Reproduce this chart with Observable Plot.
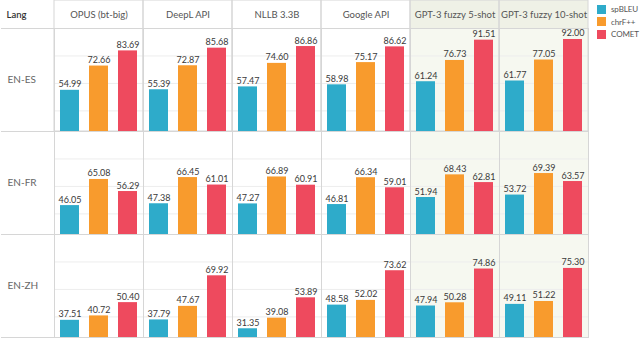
<!DOCTYPE html>
<html>
<head>
<meta charset="utf-8">
<script src="https://cdn.jsdelivr.net/npm/d3@7"></script>
<script src="https://cdn.jsdelivr.net/npm/@observablehq/plot@0.6"></script>
<style>
  body { margin: 0; background: #fff; font-family: Lato, "Open Sans", sans-serif; }
  #wrap { position: relative; width: 640px; height: 354px; }
  #legend { position: absolute; left: 597px; top: 3px; font-size: 8px; color: #555; white-space: nowrap; letter-spacing: -0.1px; }
  #legend .row { display: flex; align-items: center; height: 12.5px; }
  #legend .sw { width: 9px; height: 9px; margin-right: 5px; flex: none; }
</style>
</head>
<body>
<div id="wrap"><div id="legend"></div></div>
<script>
const models = ["OPUS (bt-big)", "DeepL API", "NLLB 3.3B", "Google API", "GPT-3 fuzzy 5-shot", "GPT-3 fuzzy 10-shot"];
const langs = ["EN-ES", "EN-FR", "EN-ZH"];
const metrics = ["spBLEU", "chrF++", "COMET"];
const colors = ["#2eabca", "#f89b2d", "#ee4a5e"];
const gptModels = ["GPT-3 fuzzy 5-shot", "GPT-3 fuzzy 10-shot"];

// values per language & metric, in model order
const esSpBLEU = [54.99, 55.39, 57.47, 58.98, 61.24, 61.77];
const esChrF   = [72.66, 72.87, 74.60, 75.17, 76.73, 77.05];
const esComet  = [83.69, 85.68, 86.86, 86.62, 91.51, 92.00];
const frSpBLEU = [46.05, 47.38, 47.27, 46.81, 51.94, 53.72];
const frChrF   = [65.08, 66.45, 66.89, 66.34, 68.43, 69.39];
const frComet  = [56.29, 61.01, 60.91, 59.01, 62.81, 63.57];
const zhSpBLEU = [37.51, 37.79, 31.35, 48.58, 47.94, 49.11];
const zhChrF   = [40.72, 47.67, 39.08, 52.02, 50.28, 51.22];
const zhComet  = [50.40, 69.92, 53.89, 73.62, 74.86, 75.30];

const yMin = 25, yMax = 100;

const byLang = {
  "EN-ES": [esSpBLEU, esChrF, esComet],
  "EN-FR": [frSpBLEU, frChrF, frComet],
  "EN-ZH": [zhSpBLEU, zhChrF, zhComet]
};
const rows = [];
for (const lang of langs) {
  metrics.forEach((metric, k) => {
    models.forEach((model, i) => rows.push({lang, model, metric, value: byLang[lang][k][i]}));
  });
}
const cells = langs.flatMap(lang => models.map(model => ({lang, model})));
const gptCells = cells.filter(d => gptModels.includes(d.model));
const topCells = cells.filter(d => d.lang === langs[0]);
const gptTop = gptCells.filter(d => d.lang === langs[0]);
const firstCol = cells.filter(d => d.model === models[0]);
const firstColEdges = firstCol.flatMap(d => [{...d, y: yMin}, {...d, y: yMax}]);

const border = "#d6d6d6";
const fxy = {fx: "model", fy: "lang"};

const chart = Plot.plot({
  width: 640,
  height: 354,
  marginLeft: 52,
  marginRight: 50,
  marginTop: 27,
  marginBottom: 16,
  style: {fontFamily: "Lato, 'Open Sans', sans-serif", background: "transparent"},
  fx: {domain: models, padding: 0, axis: null},
  fy: {domain: langs, padding: 0, axis: null},
  x: {domain: metrics, paddingInner: 1/3, paddingOuter: 1/6, axis: null},
  y: {domain: [yMin, yMax], axis: null},
  color: {domain: metrics, range: colors},
  marks: [
    Plot.barY(gptTop, {...fxy, y1: () => yMin, y2: () => yMax, fill: "#eff1e6", insetTop: -28}),
    Plot.barY(gptCells, {...fxy, y1: () => yMin, y2: () => yMax, fill: "#f6f8f0"}),
    Plot.gridY([40, 60, 80], {stroke: "#ededed", strokeOpacity: 1}),
    Plot.frame({stroke: border}),
    Plot.barY(topCells, {...fxy, y1: () => yMin, y2: () => yMax, fill: "none", stroke: border, insetTop: -28}),
    Plot.ruleY(firstColEdges, {...fxy, y: "y", stroke: border, insetLeft: -53}),
    Plot.barY(rows, {...fxy, x: "metric", y1: () => yMin, y2: "value", fill: "metric"}),
    Plot.text(rows, {...fxy, x: "metric", y: "value", text: d => d.value.toFixed(2), dy: -3, lineAnchor: "bottom", fontSize: 9, fill: "#3a3a3a"}),
    Plot.text(topCells, {...fxy, text: "model", frameAnchor: "top", dy: -13.5, lineAnchor: "middle", fontSize: 9.5, fill: "#555"}),
    Plot.text(firstCol, {...fxy, text: "lang", frameAnchor: "left", dx: -47, textAnchor: "start", fontSize: 10, fill: "#666"}),
    Plot.text(firstCol.filter(d => d.lang === langs[0]), {...fxy, text: () => "Lang", frameAnchor: "top-left", dx: -48, dy: -13.5, lineAnchor: "middle", textAnchor: "start", fontSize: 9.5, fontWeight: 600, fill: "#333"})
  ]
});
const wrap = document.getElementById("wrap");
wrap.insertBefore(chart, wrap.firstChild);

const legend = document.getElementById("legend");
metrics.forEach((m, i) => {
  const row = document.createElement("div");
  row.className = "row";
  const sw = document.createElement("div");
  sw.className = "sw";
  sw.style.background = colors[i];
  const lab = document.createElement("span");
  lab.textContent = m;
  row.appendChild(sw);
  row.appendChild(lab);
  legend.appendChild(row);
});
</script>
</body>
</html>
